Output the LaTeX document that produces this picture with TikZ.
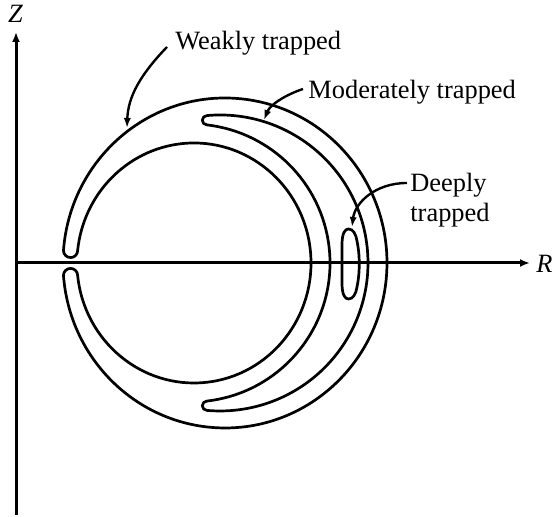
\documentclass[tikz,border=0pt]{standalone}
\usepackage{fontspec}
\setmainfont{Liberation Serif}
\usetikzlibrary{arrows.meta}
\begin{document}
\begin{tikzpicture}[x=0.5pt,y=0.5pt,
  curve/.style={line width=1.35pt, line join=round},
  axis/.style={line width=1.5pt, -{Latex[length=5pt,width=4pt]}},
  pointer/.style={line width=1.2pt, -{Latex[length=5pt,width=3.6pt]}},
  lab/.style={font=\fontsize{13.2}{15}\selectfont, inner sep=0pt}]
\useasboundingbox (0,0) rectangle (553,517);

% axes
\coordinate (orig) at (16,2);
\coordinate (ztip) at (16,485);
\coordinate (rstart) at (16,254);
\coordinate (rtip) at (530,254);
\draw[axis] (orig) -- (ztip);
\draw[axis] (rstart) -- (rtip);
\node[lab, anchor=base] (zlab) at (15.5,494) {\itshape Z};
\node[lab, anchor=base west] (rlab) at (536,244) {\itshape R};

% weakly trapped banana
\draw[curve] (63.47,266.5)
  arc[start angle=175.655, end angle=-175.655, x radius=162, y radius=165]
  arc[start angle=180, end angle=0, radius=7.085]
  arc[start angle=-174.021, end angle=174.021, x radius=117, y radius=120]
  arc[start angle=0, end angle=-180, radius=7.085] -- cycle;

% moderately trapped banana
\draw[curve] (207,401.43)
  arc[start angle=95.04, end angle=-95.04, radius=148]
  arc[start angle=270, end angle=90, radius=4.675]
  arc[start angle=-83.39, end angle=83.39, radius=139]
  arc[start angle=270, end angle=90, radius=4.675] -- cycle;

% deeply trapped banana
\draw[curve] (342,272) .. controls (342,284) and (345,288) .. (348.5,288)
  .. controls (353,288) and (356,283) .. (357,276)
  .. controls (360,262) and (360,244) .. (357,230)
  .. controls (356,223) and (353,218) .. (348.5,218)
  .. controls (345,218) and (342,222) .. (342,234) -- cycle;

% labels
\node[lab, anchor=base west] (wlab) at (175,467) {Weakly trapped};
\node[lab, anchor=base west] (mlab) at (308,418) {Moderately trapped};
\node[lab, anchor=base west] (dlab) at (410,325) {Deeply};
\node[lab, anchor=base west] (dlabb) at (410,295) {trapped};

% pointers
\coordinate (wtip) at (127,389);
\coordinate (mtip) at (264,397);
\coordinate (dtip) at (352,290);
\draw[pointer] ([shift={(-8,3)}]wlab.base west) .. controls (140,442) and (128,420) .. (wtip);
\draw[pointer] ([shift={(-5,10)}]mlab.base west) .. controls (285,422) and (270,412) .. (mtip);
\draw[pointer] ([shift={(-3,9)}]dlab.base west) .. controls (375,334) and (355,314) .. (dtip);
\end{tikzpicture}
\end{document}
